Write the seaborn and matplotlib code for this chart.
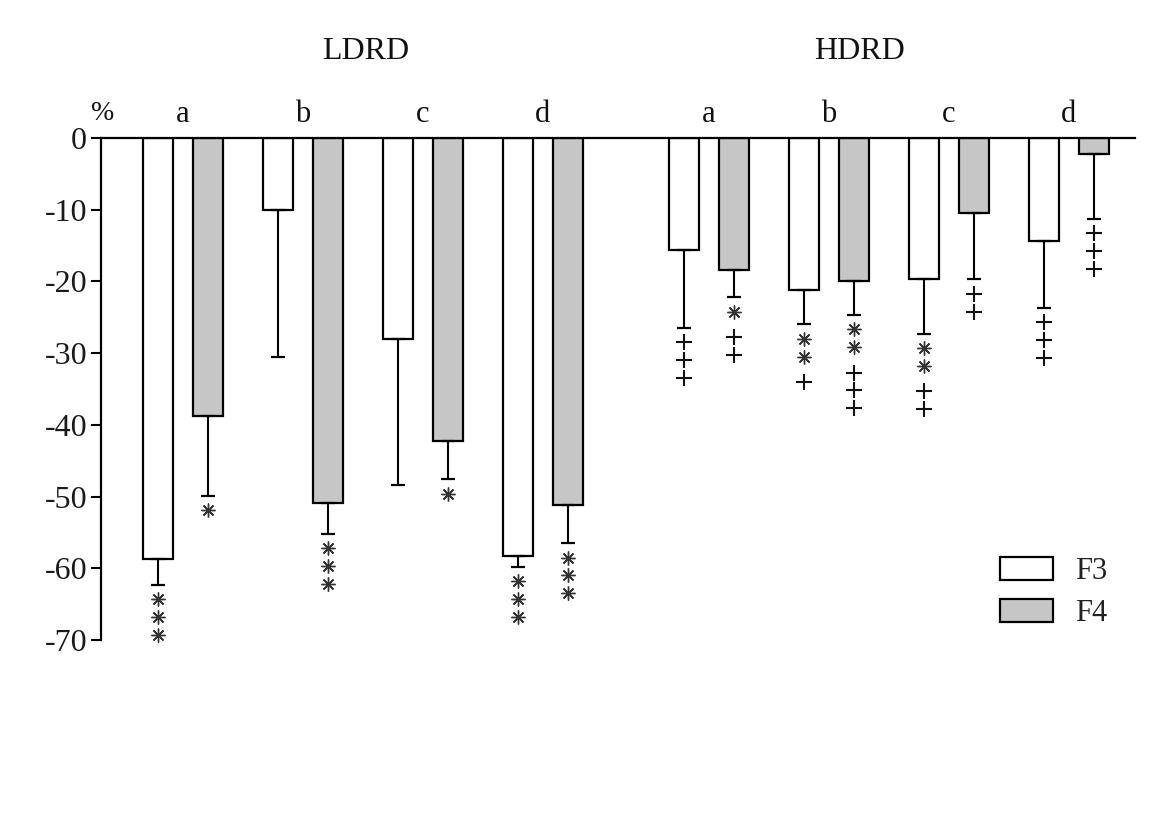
import numpy as np
import pandas as pd
import matplotlib
matplotlib.use("Agg")
import matplotlib.pyplot as plt
from matplotlib.patches import Patch
import seaborn as sns

# ---------------- data ----------------
groups = ["LDRD", "HDRD"]
conditions = ["a", "b", "c", "d"]
series = ["F3", "F4"]

ldrd_f3 = [-58.7, -10.0, -28.0, -58.3]
ldrd_f4 = [-38.7, -50.9, -42.3, -51.2]
hdrd_f3 = [-15.6, -21.2, -19.7, -14.4]
hdrd_f4 = [-18.4, -19.9, -10.5, -2.3]

ldrd_f3_err = [3.6, 20.5, 20.4, 1.5]
ldrd_f4_err = [11.2, 4.3, 5.3, 5.3]
hdrd_f3_err = [10.9, 4.8, 7.6, 9.3]
hdrd_f4_err = [3.8, 4.8, 9.2, 9.0]

ldrd_f3_sig = ["***", "", "", "***"]
ldrd_f4_sig = ["*", "***", "*", "***"]
hdrd_f3_sig = ["+++", "**+", "**++", "+++"]
hdrd_f4_sig = ["*++", "**+++", "++", "+++"]

yticks = [0, -10, -20, -30, -40, -50, -60, -70]
y_unit_label = "%"

# ---------------- layout ----------------
group_start = {"LDRD": 0.0, "HDRD": 4.383}
bar_offset = {"F3": -0.21, "F4": 0.21}
bar_width_units = 0.25

values = {("LDRD", "F3"): ldrd_f3, ("LDRD", "F4"): ldrd_f4,
          ("HDRD", "F3"): hdrd_f3, ("HDRD", "F4"): hdrd_f4}
errors = {("LDRD", "F3"): ldrd_f3_err, ("LDRD", "F4"): ldrd_f4_err,
          ("HDRD", "F3"): hdrd_f3_err, ("HDRD", "F4"): hdrd_f4_err}
sigs = {("LDRD", "F3"): ldrd_f3_sig, ("LDRD", "F4"): ldrd_f4_sig,
        ("HDRD", "F3"): hdrd_f3_sig, ("HDRD", "F4"): hdrd_f4_sig}

rows = []
for g in groups:
    for i, c in enumerate(conditions):
        for s in series:
            rows.append(dict(group=g, cond=c, series=s,
                             center=group_start[g] + i,
                             x=round(group_start[g] + i + bar_offset[s], 4),
                             value=values[(g, s)][i],
                             err=errors[(g, s)][i],
                             sig=sigs[(g, s)][i]))
df = pd.DataFrame(rows)

# ---------------- style ----------------
sns.set_theme(style="white")
plt.rcParams["font.family"] = ["Liberation Serif", "DejaVu Serif"]
plt.rcParams["axes.unicode_minus"] = False

W, H = 1166, 827
fig = plt.figure(figsize=(W / 100, H / 100), dpi=100)
left_px, right_px, top_px, bot_px = 101, 1135, 138, 640
ax = fig.add_axes([left_px / W, 1 - bot_px / H,
                   (right_px - left_px) / W, (bot_px - top_px) / H])

palette = {"F3": "white", "F4": "#c6c6c6"}
native_w = np.min(np.diff(np.sort(df["x"].unique())))
sns.barplot(data=df, x="x", y="value", hue="series", palette=palette,
            native_scale=True, dodge=False, width=bar_width_units / native_w,
            edgecolor="black", linewidth=1.6, errorbar=None, legend=False,
            saturation=1, ax=ax)

# one-sided (downward) error bars
ax.errorbar(df["x"], df["value"], yerr=[df["err"], np.zeros(len(df))],
            fmt="none", ecolor="black", elinewidth=1.5, capsize=5,
            capthick=1.6, zorder=3)

# significance symbols
first_off, step, switch_extra = 2.0, 2.5, 1.0
for _, r in df.iterrows():
    y = r["value"] - r["err"] - first_off
    prev = None
    for ch in r["sig"]:
        if prev is not None:
            y -= step + (switch_extra if ch != prev else 0)
        if ch == "*":
            ax.plot(r["x"], y, marker=(8, 2, 0), ms=10, mew=1.0,
                    color="#333333", clip_on=False, zorder=4)
        else:
            ax.plot(r["x"], y, marker="+", ms=12, mew=1.5,
                    color="#111111", clip_on=False, zorder=4)
        prev = ch

# axes
ax.set_xlim((left_px - 183) / 120, (right_px - 183) / 120)
ax.set_ylim(-70, 0)
ax.set_yticks(yticks)
ax.set_yticklabels([str(t) for t in yticks])
ax.set_xticks([])
ax.set_xlabel("")
ax.set_ylabel("")
for side in ["right", "bottom"]:
    ax.spines[side].set_visible(False)
for side in ["left", "top"]:
    ax.spines[side].set_visible(True)
    ax.spines[side].set_color("black")
    ax.spines[side].set_linewidth(1.6)
ax.tick_params(axis="y", which="major", direction="out", length=7, width=1.5,
               color="black", labelsize=23, labelcolor="#1a1a1a", pad=3, left=True)

# condition letters above each pair
for g in groups:
    for i, c in enumerate(conditions):
        ax.annotate(c, xy=(group_start[g] + i, 1.0),
                    xycoords=("data", "axes fraction"),
                    xytext=(0, 11.5), textcoords="offset points",
                    ha="center", va="baseline", fontsize=22, color="#111111")

# group headers
header_x = {"LDRD": 1.525, "HDRD": 5.64}
for g in groups:
    ax.annotate(g, xy=(header_x[g], 1.0), xycoords=("data", "axes fraction"),
                xytext=(0, 57), textcoords="offset points",
                ha="center", va="baseline", fontsize=23, color="#111111")

# unit label
ax.annotate(y_unit_label, xy=(0.002, 1.0), xycoords="axes fraction",
            xytext=(0, 13), textcoords="offset points",
            ha="center", va="baseline", fontsize=20, color="#111111")

# legend
handles = [Patch(facecolor=palette[s], edgecolor="black", linewidth=1.6, label=s)
           for s in series]
ax.legend(handles=handles, loc="upper left",
          bbox_to_anchor=(1000 / W, 1 - 557 / H), bbox_transform=fig.transFigure,
          frameon=False, fontsize=22, handlelength=1.73, handleheight=0.78,
          handletextpad=0.72, labelspacing=0.43, borderpad=0, borderaxespad=0,
          labelcolor="#222222")

fig.savefig("out.png", dpi=100)
